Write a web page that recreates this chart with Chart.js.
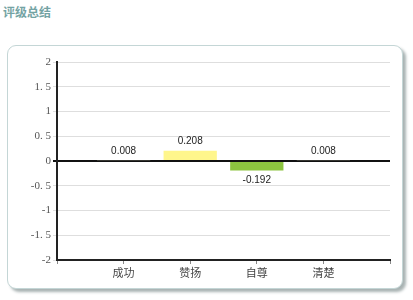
<!DOCTYPE html>
<html>
<head>
<meta charset="utf-8">
<script src="https://cdn.jsdelivr.net/npm/chart.js@4"></script>
<style>
  html, body { margin: 0; padding: 0; background: #fff; }
  body { width: 413px; height: 300px; position: relative; overflow: hidden; }
  .title {
    position: absolute; left: 3px; top: 3px;
    font: bold 12px "Noto Sans CJK SC", sans-serif; color: #74a3a3;
  }
  .box {
    position: absolute; left: 7px; top: 45px; width: 394px; height: 242px;
    border: 1px solid #c4d6d6; border-radius: 9px;
    box-shadow: 3px 3px 3px #a9b3b3;
    background: #fff;
  }
  #chart { position: absolute; left: 0; top: 0; }
</style>
</head>
<body>
<div class="title">评级总结</div>
<div class="box"></div>
<canvas id="chart" width="413" height="300"></canvas>
<script>
// slots 0 and 5 are empty, bars sit on the inner ticks
const categories = ['', '成功', '赞扬', '自尊', '清楚', ''];
const scores = [null, 0.008, 0.208, -0.192, 0.008, null];
const barColors = ['#555', '#5c5c52', '#fff68c', '#8cc43f', '#5c5c52', '#555'];
const yTicks = [-2, -1.5, -1, -0.5, 0, 0.5, 1, 1.5, 2];

const valueLabels = {
    id: 'valueLabels',
    afterDatasetsDraw(chart) {
        const ctx = chart.ctx;
        const meta = chart.getDatasetMeta(0);
        ctx.save();
        ctx.font = '10px "Liberation Sans", Arial, sans-serif';
        ctx.fillStyle = '#222';
        ctx.textAlign = 'center';
        ctx.textBaseline = 'middle';
        meta.data.forEach((bar, i) => {
            const v = scores[i];
            if (v == null) return;
            const y = v >= 0 ? Math.min(bar.y, bar.base) - 9 : Math.max(bar.y, bar.base) + 10;
            ctx.fillText(String(v), bar.x, y);
        });
        ctx.restore();
    }
};

new Chart(document.getElementById('chart'), {
    type: 'bar',
    data: {
        labels: categories,
        datasets: [{
            data: scores,
            backgroundColor: barColors,
            borderWidth: 0,
            barPercentage: 1,
            categoryPercentage: 0.8,
        }],
    },
    plugins: [valueLabels],
    options: {
        responsive: false,
        animation: false,
        events: [],
        layout: { padding: { top: 62, right: 23, bottom: 0, left: 0 } },
        plugins: { legend: { display: false }, tooltip: { enabled: false } },
        scales: {
            x: {
                offset: false,
                afterFit: (s) => { s.height = 40; },
                grid: { offset: false, drawOnChartArea: false, tickLength: 4, color: '#888' },
                border: { color: '#222', width: 2 },
                ticks: {
                    padding: 2,
                    autoSkip: false,
                    maxRotation: 0,
                    color: '#444',
                    font: { family: '"Noto Sans CJK SC", serif', size: 11 },
                },
            },
            y: {
                min: -2,
                max: 2,
                afterFit: (s) => { s.width = 57; },
                afterBuildTicks: (s) => { s.ticks = yTicks.map(v => ({ value: v })); },
                grid: {
                    tickLength: 4,
                    color: (c) => c.tick && c.tick.value === 0 ? '#111' : '#dedede',
                    lineWidth: (c) => c.tick && c.tick.value === 0 ? 2 : 1,
                },
                border: { color: '#222', width: 2 },
                ticks: {
                    padding: 2,
                    color: '#555',
                    font: { family: '"Liberation Serif", "DejaVu Serif", serif', size: 11 },
                    callback: (v) => String(v).replace('.', '. '),
                },
            },
        },
    },
});
</script>
</body>
</html>
